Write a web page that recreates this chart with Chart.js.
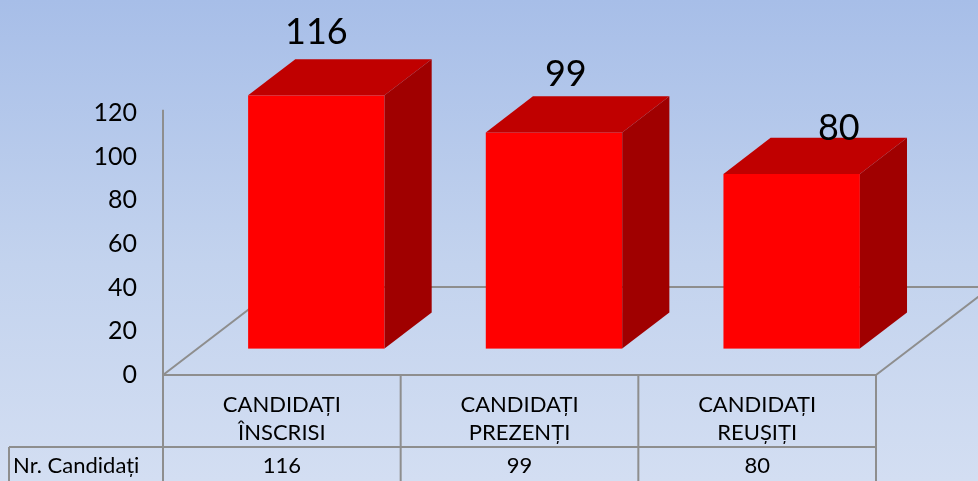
<!DOCTYPE html>
<html>
<head>
<meta charset="utf-8">
<script src="https://cdn.jsdelivr.net/npm/chart.js@4.4.0/dist/chart.umd.min.js"></script>
<style>
  html, body { margin: 0; padding: 0; }
  body { width: 978px; height: 481px; overflow: hidden;
         background: linear-gradient(to bottom, #a7bee8 0%, #c3d3ee 55%, #d3def2 100%); }
  #wrap { position: relative; width: 978px; height: 481px; }
</style>
</head>
<body>
<div id="wrap"><canvas id="c" width="978" height="481"></canvas></div>
<script>
// ---- data ----
const categories = [["CANDIDAȚI", "ÎNSCRISI"], ["CANDIDAȚI", "PREZENȚI"], ["CANDIDAȚI", "REUȘIȚI"]];
const seriesName = "Nr. Candidați";
const values = [116, 99, 80];
const yTicks = [0, 20, 40, 60, 80, 100, 120];

// ---- style ----
const FONT = "Lato, 'Open Sans', sans-serif";
const LINE = "#8e8e8e";
const FRONT = "#ff0000", TOP = "#c00000", SIDE = "#a00000";
const DEPTH = { dx: 115, dy: -88 };      // floor depth vector
const BAR_START = 0.30, BAR_DEPTH = 0.41; // fraction of floor depth

const threeD = {
  id: 'threeD',
  beforeDatasetsDraw(chart) {
    const { ctx, chartArea: a, scales: { y } } = chart;
    const y0 = y.getPixelForValue(0);
    ctx.save();
    ctx.strokeStyle = LINE; ctx.lineWidth = 2;
    ctx.beginPath();
    // axis line (continues into table)
    ctx.moveTo(a.left, y.getPixelForValue(121.5)); ctx.lineTo(a.left, chart.height);
    // floor
    ctx.moveTo(a.left, y0); ctx.lineTo(a.left + DEPTH.dx, y0 + DEPTH.dy);
    ctx.lineTo(a.right + DEPTH.dx + 20, y0 + DEPTH.dy);
    ctx.moveTo(a.right, y0); ctx.lineTo(a.right + DEPTH.dx, y0 + DEPTH.dy);
    ctx.stroke();
    ctx.restore();
  },
  afterDatasetsDraw(chart) {
    const { ctx, chartArea: a, scales: { x, y } } = chart;
    const meta = chart.getDatasetMeta(0);
    const ox = DEPTH.dx * BAR_START, oy = DEPTH.dy * BAR_START;
    const dx = DEPTH.dx * BAR_DEPTH, dy = DEPTH.dy * BAR_DEPTH;
    ctx.save();
    meta.data.forEach((bar, i) => {
      const p = bar.getProps(['x', 'y', 'base', 'width'], true);
      const L = p.x - p.width / 2 + ox, R = p.x + p.width / 2 + ox;
      const T = p.y + oy, B = p.base + oy;
      // front
      ctx.fillStyle = FRONT; ctx.fillRect(L, T, R - L, B - T);
      // top
      ctx.fillStyle = TOP; ctx.beginPath();
      ctx.moveTo(L, T); ctx.lineTo(L + dx, T + dy); ctx.lineTo(R + dx, T + dy); ctx.lineTo(R, T); ctx.closePath(); ctx.fill();
      // side
      ctx.fillStyle = SIDE; ctx.beginPath();
      ctx.moveTo(R, T); ctx.lineTo(R + dx, T + dy); ctx.lineTo(R + dx, B + dy); ctx.lineTo(R, B); ctx.closePath(); ctx.fill();
    });
    // data labels
    ctx.fillStyle = "#000"; ctx.font = "36px " + FONT; ctx.textAlign = "center"; ctx.textBaseline = "alphabetic";
    const n = meta.data.length;
    meta.data.forEach((bar, i) => {
      const p = bar.getProps(['x', 'y'], true);
      const t = n > 1 ? i / (n - 1) : 0;
      const cx = p.x + ox + dx * t * t;
      const backTop = p.y + oy + dy;
      ctx.fillText(String(values[i]), cx, backTop - 15 + 17 * t * t);
    });
    // data table
    const y0 = y.getPixelForValue(0);
    const step = x.getPixelForValue(1) - x.getPixelForValue(0);
    const rowY = 447;
    ctx.strokeStyle = LINE; ctx.lineWidth = 2; ctx.beginPath();
    ctx.moveTo(a.left, y0); ctx.lineTo(a.right, y0);
    ctx.moveTo(9, rowY); ctx.lineTo(a.right, rowY);
    ctx.moveTo(9, rowY); ctx.lineTo(9, chart.height);
    for (let i = 1; i <= categories.length; i++) {
      const xx = a.left + step * i;
      ctx.moveTo(xx, y0); ctx.lineTo(xx, chart.height);
    }
    ctx.stroke();
    ctx.fillStyle = "#000"; ctx.font = "22px " + FONT; ctx.textAlign = "center";
    categories.forEach((lines, i) => {
      const cx = x.getPixelForValue(i);
      ctx.fillText(lines[0], cx, 412);
      ctx.fillText(lines[1], cx, 440);
      ctx.fillText(String(values[i]), cx, 473);
    });
    ctx.textAlign = "left";
    ctx.fillText(seriesName, 13, 473);
    ctx.restore();
  }
};

new Chart(document.getElementById('c'), {
  type: 'bar',
  data: {
    labels: categories,
    datasets: [{ label: seriesName, data: values, backgroundColor: 'rgba(0,0,0,0)', borderWidth: 0,
                 categoryPercentage: 1, barPercentage: 0.574 }]
  },
  options: {
    responsive: false, animation: false,
    layout: { padding: { left: 0, right: 102, top: 113, bottom: 106 } },
    plugins: { legend: { display: false }, tooltip: { enabled: false } },
    scales: {
      x: { display: false },
      y: {
        min: 0, max: 120,
        afterFit(s) { s.width = 163; },
        afterBuildTicks(s) { s.ticks = yTicks.map(v => ({ value: v })); },
        grid: { display: false, drawTicks: false },
        border: { display: false },
        ticks: { padding: 26, color: '#000', font: { family: FONT, size: 25 } }
      }
    }
  },
  plugins: [threeD]
});
</script>
</body>
</html>
